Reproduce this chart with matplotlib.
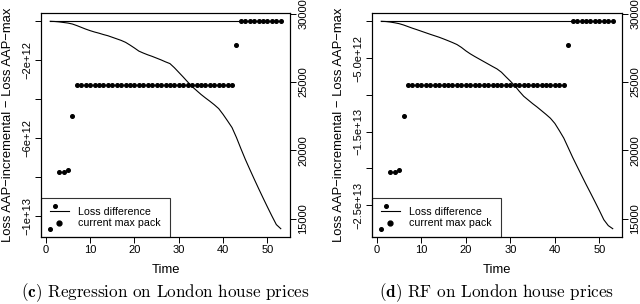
import matplotlib
matplotlib.use('Agg')
import matplotlib.pyplot as plt
from matplotlib.lines import Line2D
import numpy as np

plt.rcParams['font.family'] = ['Liberation Sans', 'DejaVu Sans']
plt.rcParams['axes.unicode_minus'] = True
plt.rcParams['mathtext.fontset'] = 'cm'

time = np.arange(1, 54)

# loss difference (AAP-incremental minus AAP-max), units of 1e12
loss_diff_reg = [0, -0.01, -0.03, -0.06, -0.09, -0.14, -0.22, -0.31, -0.40, -0.48,
                 -0.55, -0.61, -0.68, -0.74, -0.82, -0.90, -0.98, -1.08, -1.22, -1.37,
                 -1.53, -1.63, -1.72, -1.80, -1.89, -1.98, -2.08, -2.17, -2.38, -2.62,
                 -2.86, -3.11, -3.35, -3.55, -3.75, -3.93, -4.10, -4.28, -4.48, -4.78,
                 -5.11, -5.45, -5.96, -6.53, -7.08, -7.59, -8.09, -8.58, -9.06, -9.53,
                 -9.99, -10.43, -10.64]
loss_diff_rf = [0, -0.03, -0.10, -0.20, -0.32, -0.50, -0.72, -0.94, -1.14, -1.35,
                -1.56, -1.77, -1.97, -2.17, -2.40, -2.64, -2.89, -3.16, -3.55, -4.02,
                -4.43, -4.79, -5.13, -5.47, -5.81, -6.15, -6.48, -6.93, -7.55, -8.14,
                -8.78, -9.52, -10.20, -10.70, -11.20, -11.66, -12.16, -12.66, -13.19, -13.90,
                -14.87, -15.89, -17.20, -18.52, -19.75, -20.97, -22.18, -23.35, -24.54, -25.75,
                -27.00, -27.80, -28.22]

# current max pack (right axis)
max_pack = [14270, 15950, 18450, 18450, 18550, 22520] + [24800] * 36 + [27740] + [29450] * 10

left_ticks_reg = [0, -2e12, -4e12, -6e12, -8e12, -1e13]
left_labels_reg = ['', '−2e+12', '', '−6e+12', '', '−1e+13']
left_ticks_rf = [0, -5e12, -1e13, -1.5e13, -2e13, -2.5e13]
left_labels_rf = ['', '−5.0e+12', '', '−1.5e+13', '', '−2.5e+13']
right_ticks = [15000, 20000, 25000, 30000]
right_labels = ['15000', '20000', '25000', '30000']
x_ticks = [0, 10, 20, 30, 40, 50]

panels = [
    dict(diff=loss_diff_reg, ticks=left_ticks_reg, labels=left_labels_reg,
         tag='(c)', caption='Regression on London house prices', rect=[41/640, 67/304, 249/640, 224/304]),
    dict(diff=loss_diff_rf, ticks=left_ticks_rf, labels=left_labels_rf,
         tag='(d)', caption='RF on London house prices', rect=[372/640, 67/304, 250/640, 224/304]),
]

fig = plt.figure(figsize=(6.4, 3.04), dpi=100)

for p in panels:
    ax = fig.add_axes(p['rect'])
    diff = np.array(p['diff']) * 1e12
    ax.plot(time, diff, color='black', lw=0.8)
    ax.plot(time, np.zeros_like(diff), color='black', lw=0.8)
    ax.margins(x=0.04, y=0.04)
    ax.set_yticks(p['ticks'])
    ax.set_yticklabels(p['labels'], rotation=90, va='center')
    ax.set_xticks(x_ticks)
    ax.set_xticklabels([str(v) for v in x_ticks])
    ax.tick_params(direction='out', length=4, width=0.7, labelsize=8, pad=2)
    for s in ax.spines.values():
        s.set_linewidth(0.8)
    ax.set_ylabel('Loss AAP−incremental − Loss AAP−max', fontsize=9.4)
    ax.yaxis.set_label_coords(-0.11, 0.5)
    ax.set_xlabel('Time', fontsize=9.4, va='top')
    ax.xaxis.set_label_coords(0.5, -0.12)

    ax2 = ax.twinx()
    ax2.plot(time, max_pack, ls='none', marker='o', ms=2.6, color='black')
    ax2.margins(x=0.04, y=0.04)
    ax2.set_yticks(right_ticks)
    ax2.set_yticklabels(right_labels, rotation=90, va='center')
    ax2.tick_params(direction='out', length=4, width=0.7, labelsize=8, pad=2)
    for s in ax2.spines.values():
        s.set_linewidth(0.8)

    handles = [Line2D([], [], color='black', lw=0.8),
               Line2D([], [], ls='none', marker='o', ms=3.5, color='black')]
    leg = ax2.legend(handles, ['Loss difference', 'current max pack'], loc='lower left',
                     borderaxespad=0, fancybox=False, edgecolor='black', facecolor='none',
                     framealpha=None, fontsize=7.7, handlelength=1.8, handletextpad=0.9,
                     labelspacing=0.15, borderpad=0.8)
    leg.get_frame().set_linewidth(0.8)

    r = p['rect']
    cx = (r[0] + r[2] / 2) * 640
    fig.text(cx / 640, 1 - 297 / 304, r'$\mathbf{' + p['tag'] + '}$ ' + p['caption'],
             family='cmr10', fontsize=12.3, ha='center', va='baseline')

fig.savefig('out.png', dpi=100)
